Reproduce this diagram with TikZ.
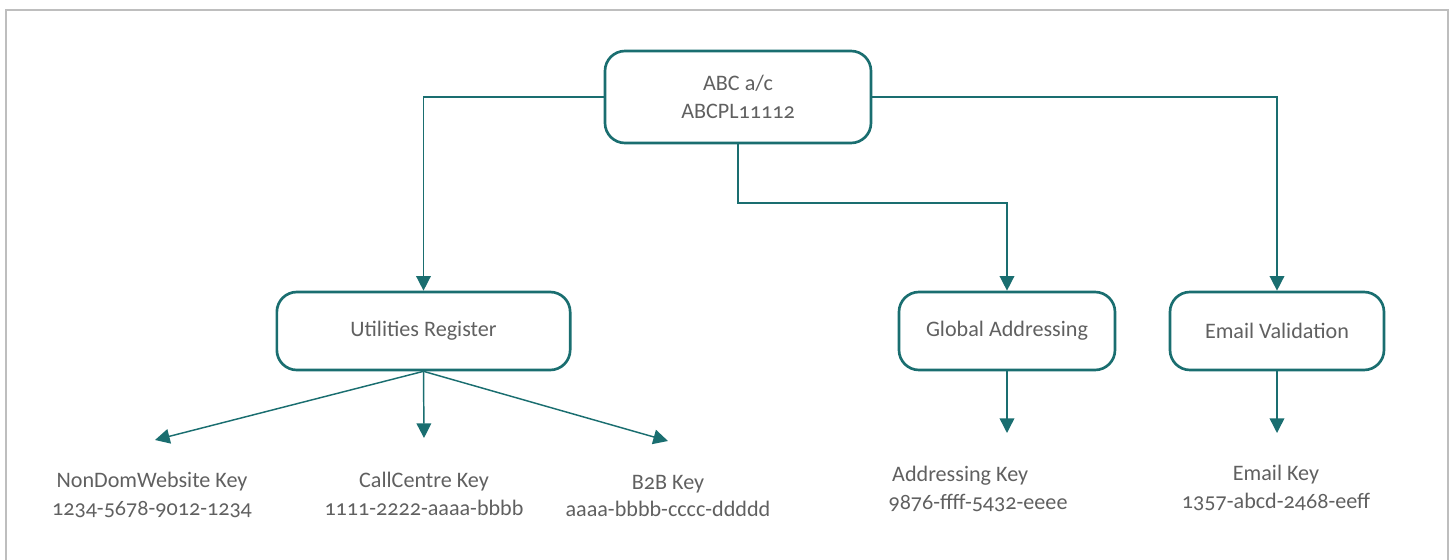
\documentclass[tikz,border=0pt]{standalone}
\usepackage{fontspec}
\setmainfont[Numbers=OldStyle]{Carlito}
\usetikzlibrary{shapes,arrows.meta,positioning}
\definecolor{tealline}{RGB}{26,110,112}
\definecolor{txtgray}{RGB}{96,96,96}
\definecolor{framegray}{RGB}{190,190,190}

\begin{document}
\begin{tikzpicture}[x=0.75pt,y=-0.75pt,% pixel grid, y grows downwards
      every node/.style={
        align=center,     % so that "\\" breaks the line
        text=txtgray,
        font=\fontsize{16.6}{20.5}\selectfont
      },
      box/.style={rectangle,rounded corners=15pt,draw=tealline,line width=2pt,minimum height=58.5pt},
      link/.style={draw=tealline,line width=1.1pt,-{Triangle[length=11pt,width=11pt]}},
      every edge/.style={link}
    ]
    \useasboundingbox (0,0) rectangle (1454,560);
    \draw[framegray,line width=0.8pt] (6,566) -- (6,10) -- (1448,10) -- (1448,566);
    % boxes
    \node[box,minimum width=199.5pt,minimum height=69pt](ABC) at (738,97){ABC a/c \\ ABCPL11112};
    \node[box,minimum width=220pt](UR) at (423.5,331){Utilities Register};
    \node[box,minimum width=162pt](GA) at (1007,331){Global Addressing};
    \node[box,minimum width=160.5pt](EV) at (1277,331){Email Validation};
    % keys
    \node(K1) at (152,495){NonDomWebsite Key \\ 1234-5678-9012-1234};
    \node(K2) at (424,494){CallCentre Key \\ 1111-2222-aaaa-bbbb};
    \node(K3) at (668,496){B2B Key \\ aaaa-bbbb-cccc-ddddd};
    \node[align=left](K4) at (978,489){\,Addressing Key \\ 9876-ffff-5432-eeee};
    \node(K5) at (1276,488){Email Key \\ 1357-abcd-2468-eeff};
    % arrow ends above the keys
    \coordinate (T1) at (155,440);
    \coordinate (T2) at (424,438);
    \coordinate (T3) at (668,441);
    \coordinate (T4) at (1007,433);
    \coordinate (T5) at (1277,433);
    \coordinate (bend) at (738,203);
    \draw[link] (ABC.west) -| (UR.north);
    \draw[link] (ABC.east) -| (EV.north);
    \draw[link] (ABC.south) -- (bend) -| (GA.north);
    \path
    (UR.south) edge [] node [] {} (T1)
    (UR.south) edge [] node [] {} (T2)
    (UR.south) edge [] node [] {} (T3)
    (GA.south) edge [] node [] {} (T4)
    (EV.south) edge [] node [] {} (T5)
    ;
  \end{tikzpicture}
\end{document}
